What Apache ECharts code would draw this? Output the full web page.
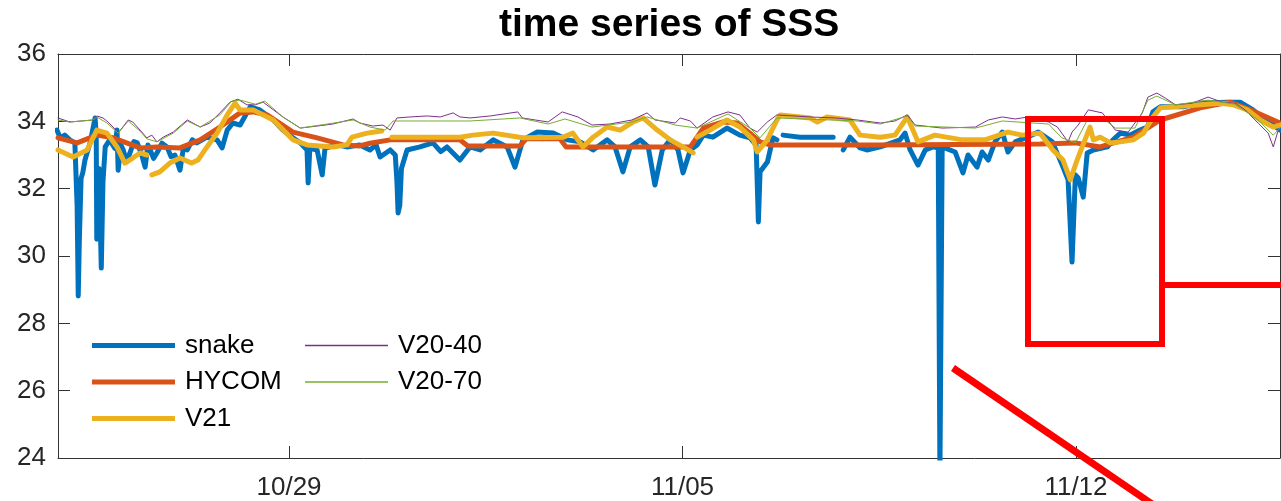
<!DOCTYPE html>
<html>
<head>
<meta charset="utf-8">
<script src="https://cdn.jsdelivr.net/npm/echarts@6/dist/echarts.min.js"></script>
<style>
html,body{margin:0;padding:0;background:#fff;}
#c{width:1281px;height:501px;}
</style>
</head>
<body>
<div id="c"></div>
<script>
// x values: days relative to 10/29 00:00
const xTickDays = [0, 7, 14];
const xTickLabels = ['10/29', '11/05', '11/12'];
const xMin = -4.11, xMax = 17.63;
const yMin = 24, yMax = 36, yStep = 2;

const seriesNames = ['snake', 'HYCOM', 'V21', 'V20-40', 'V20-70'];

const snake = [
  [-4.13,33.74],[-4.07,33.51],[-3.99,33.59],[-3.90,33.45],[-3.81,33.36],[-3.77,31.5],[-3.75,28.81],[-3.73,30.5],[-3.70,32.3],
  [-3.67,32.47],[-3.63,32.85],[-3.54,33.36],[-3.45,34.10],[-3.43,33.6],[-3.42,30.5],[-3.38,32.6],[-3.34,29.64],[-3.31,32.2],
  [-3.27,33.24],[-3.19,33.45],[-3.10,33.2],[-3.06,33.74],[-3.04,32.55],[-2.99,33.3],[-2.95,33.15],[-2.89,32.8],[-2.83,33.06],[-2.76,33.4],[-2.70,33.36],
  [-2.62,33.0],[-2.56,32.64],[-2.51,33.3],[-2.47,33.15],[-2.41,32.9],
  [-2.35,33.06],[-2.26,33.35],[-2.17,33.24],[-2.10,32.95],[-2.03,33.00],[-1.94,32.55],[-1.88,33.2],[-1.81,33.15],[-1.72,33.45],[-1.64,33.36],[-1.46,33.53],[-1.28,33.45],[-1.19,33.21],
  [-1.10,33.74],[-1.00,33.95],[-0.87,33.89],[-0.69,34.43],[-0.52,34.34],[-0.28,34.04],[-0.11,33.74],[0.07,33.51],[0.20,33.36],
  [0.32,33.15],[0.34,32.17],[0.37,33.2],[0.50,33.15],[0.59,32.41],[0.64,33.2],[0.85,33.3],[1.03,33.24],[1.26,33.30],[1.44,33.15],[1.55,33.3],[1.62,32.94],
  [1.80,33.15],[1.89,33.0],[1.92,32.2],[1.94,31.28],[1.97,31.5],[2.00,32.6],[2.10,33.15],[2.33,33.24],[2.56,33.36],[2.70,33.1],[2.81,33.24],
  [3.04,32.85],[3.22,33.24],[3.40,33.15],[3.63,33.45],[3.88,33.24],[4.02,32.64],[4.16,33.45],[4.41,33.68],[4.70,33.65],[4.95,33.45],
  [5.18,33.39],[5.41,33.15],[5.66,33.45],[5.80,33.24],[5.94,32.50],[6.07,33.24],[6.25,33.45],[6.39,33.24],[6.51,32.11],[6.64,33.15],
  [6.78,33.45],[6.92,33.15],[7.01,32.47],[7.14,33.15],[7.26,33.30],[7.37,33.59],[7.54,33.53],[7.79,33.80],[8.02,33.59],[8.20,33.51],
  [8.31,33.30],[8.35,31.01],[8.38,32.5],[8.51,32.79],[8.61,33.51],[8.68,33.45],[8.73,null],
  [8.79,33.59],[9.09,33.53],[9.68,33.53],[9.77,null],
  [9.86,33.15],[9.98,33.53],[10.16,33.21],[10.28,33.15],[10.52,33.24],[10.87,33.45],[10.96,33.65],[11.05,33.15],[11.19,32.70],
  [11.32,33.15],[11.46,33.24],[11.55,33.21],[11.58,23.5],[11.62,33.24],[11.85,33.09],[11.99,32.47],[12.08,33.0],[12.24,32.64],
  [12.33,33.09],[12.44,32.85],[12.56,33.39],[12.69,33.68],[12.79,33.09],[12.92,33.39],[13.13,33.53],[13.33,33.68],[13.58,33.39],
  [13.77,32.64],[13.86,32.26],[13.93,29.82],[13.99,32.41],[14.04,32.32],[14.13,31.75],[14.20,33.06],[14.31,33.15],[14.56,33.24],
  [14.66,33.45],[14.79,33.65],[14.96,33.59],[15.14,33.74],[15.27,33.83],[15.37,34.28],[15.50,34.43],[15.91,34.43],[16.21,34.54],
  [16.69,34.57],[16.92,34.57],[17.15,34.34],[17.33,34.10],[17.51,33.89],[17.63,33.74]
];

const hycom = [
  [-4.11,33.51],[-3.77,33.36],[-3.42,33.59],[-3.13,33.51],[-2.65,33.21],[-2.35,33.24],[-1.94,33.21],[-1.58,33.45],[-1.23,33.83],
  [-0.87,34.25],[-0.64,34.28],[-0.39,34.19],[0.07,33.68],[0.50,33.51],[0.96,33.30],[1.26,33.27],[1.44,33.35],[1.80,33.45],
  [3.04,33.45],[3.18,33.27],[4.11,33.27],[4.22,33.48],[4.82,33.48],[4.93,33.24],[7.14,33.24],[7.37,33.80],[7.72,33.98],[7.97,33.95],
  [8.20,33.65],[8.38,33.39],[8.56,33.30],[10.43,33.30],[13.36,33.33],[13.99,33.36],[14.43,33.24],[15.02,33.53],[15.50,34.04],
  [16.21,34.40],[16.74,34.57],[17.10,34.34],[17.63,33.95]
];

const v21 = [
  [-4.11,33.15],[-3.84,32.94],[-3.59,33.15],[-3.42,33.74],[-3.24,33.65],[-3.06,33.24],[-2.92,32.76],[-2.78,32.91],[-2.65,33.06],
  [-2.53,33.00],[-2.48,null],
  [-2.44,32.41],[-2.30,32.50],[-2.12,32.76],[-1.94,32.91],[-1.73,32.76],[-1.62,32.85],[-1.46,33.24],[-1.28,33.65],[-1.10,34.19],
  [-0.96,34.54],[-0.87,34.34],[-0.64,34.34],[-0.28,34.04],[0.07,33.45],[0.32,33.30],[0.78,33.24],[1.03,33.30],[1.12,33.53],
  [1.39,33.65],[1.65,33.71],[1.74,null],
  [1.83,33.53],[3.04,33.53],[3.27,33.59],[3.63,33.65],[4.16,33.51],[4.88,33.53],[5.05,33.65],[5.23,33.24],[5.41,33.53],[5.66,33.83],
  [5.89,33.74],[6.12,33.98],[6.30,34.10],[6.55,33.74],[6.78,33.45],[7.01,33.24],[7.19,33.06],[7.22,null],
  [7.26,33.53],[7.49,33.74],[7.79,34.04],[8.02,33.83],[8.26,33.45],[8.33,33.09],[8.51,33.45],[8.68,34.04],[8.74,34.19],[9.27,34.10],
  [9.40,33.98],[9.57,34.13],[9.98,34.04],[10.16,33.59],[10.52,33.53],[10.78,33.59],[11.00,34.13],[11.19,33.39],[11.49,33.59],
  [11.98,33.45],[12.38,33.45],[12.79,33.68],[13.04,33.59],[13.36,33.65],[13.59,33.15],[13.77,32.85],[13.90,32.26],[14.02,32.85],
  [14.16,33.45],[14.25,33.83],[14.31,33.45],[14.43,33.53],[14.61,33.36],[14.79,33.39],[15.02,33.45],[15.20,33.65],[15.37,34.13],
  [15.50,34.40],[15.73,34.43],[16.21,34.49],[16.57,34.54],[16.80,34.49],[17.05,34.34],[17.28,34.04],[17.51,33.83],[17.63,33.89]
];

const v2040 = [
  [-4.11,34.10],[-3.90,33.98],[-3.49,34.04],[-3.42,34.16],[-3.31,34.10],[-3.24,34.01],[-3.13,33.83],[-3.04,33.65],[-2.86,34.04],
  [-2.78,33.98],[-2.65,33.74],[-2.53,33.51],[-2.44,33.59],[-2.35,33.39],[-2.24,33.53],[-2.06,33.68],[-1.81,34.04],[-1.71,33.95],
  [-1.58,33.83],[-1.41,33.95],[-1.23,34.25],[-1.05,34.57],[-0.91,34.66],[-0.75,34.49],[-0.60,34.49],[-0.46,34.57],[-0.11,34.13],
  [0.20,33.80],[0.50,33.86],[0.78,33.92],[1.14,34.07],[1.26,33.95],[1.49,33.86],[1.67,33.89],[1.80,33.74],[1.92,34.10],[2.15,34.13],
  [2.46,34.16],[2.69,34.13],[2.92,34.25],[3.04,34.13],[3.22,34.10],[3.58,34.16],[4.07,34.28],[4.15,34.10],[4.61,33.98],[4.86,34.28],
  [5.14,34.13],[5.39,33.89],[5.71,33.92],[6.10,34.04],[6.37,34.25],[6.51,34.04],[6.87,33.95],[6.96,34.10],[7.14,34.01],[7.26,33.80],
  [7.54,34.13],[7.81,34.28],[8.02,34.19],[8.20,33.80],[8.33,33.68],[8.51,33.98],[8.68,34.19],[9.27,34.13],[9.72,34.10],[10.11,34.04],
  [10.52,33.95],[10.78,34.01],[11.00,34.19],[11.14,33.89],[11.62,33.80],[12.21,33.83],[12.44,34.04],[12.69,34.13],[12.92,34.07],
  [13.15,34.13],[13.51,33.98],[13.67,33.83],[13.86,33.39],[13.93,33.68],[14.04,33.89],[14.22,34.34],[14.47,34.25],[14.70,33.74],
  [14.93,33.68],[15.18,34.25],[15.28,34.72],[15.44,34.84],[15.59,34.69],[15.77,34.49],[16.07,34.54],[16.35,34.72],[16.60,34.57],
  [16.83,34.54],[17.01,34.34],[17.24,33.95],[17.42,33.65],[17.51,33.24],[17.60,33.74]
];

const v2070 = [
  [-4.11,34.04],[-3.90,33.98],[-3.49,34.04],[-3.42,34.13],[-3.24,33.95],[-3.04,33.65],[-2.86,34.01],[-2.65,33.71],[-2.53,33.48],
  [-2.35,33.39],[-2.06,33.65],[-1.81,34.01],[-1.58,33.83],[-1.23,34.19],[-1.02,34.60],[-0.87,34.63],[-0.60,34.51],[-0.43,34.60],
  [-0.11,34.13],[0.20,33.80],[0.68,33.92],[1.14,34.04],[1.44,33.83],[1.71,33.74],[1.85,34.01],[2.46,34.01],[3.22,34.01],[4.11,34.10],
  [4.61,33.92],[4.91,34.07],[5.39,33.83],[6.10,33.98],[6.37,34.13],[6.87,33.89],[7.26,33.80],[7.81,34.22],[8.20,33.80],[8.38,33.51],
  [8.68,34.10],[10.11,34.01],[10.52,33.92],[11.00,34.16],[11.14,33.86],[12.21,33.80],[12.69,34.01],[13.51,33.92],[13.75,33.51],
  [13.99,33.36],[14.22,34.10],[14.47,34.10],[14.70,33.80],[15.05,33.80],[15.28,34.63],[15.44,34.75],[15.77,34.49],[16.35,34.63],
  [16.83,34.51],[17.24,34.04],[17.51,33.59],[17.63,33.80]
];

const colors = ['#0072BD', '#D95319', '#EDB120', '#7E2F8E', '#77AC30'];
const widths = [5, 5, 5, 1, 1];
const datasets = [snake, hycom, v21, v2040, v2070];

const axisColor = '#333333';
const txtColor = '#262626';
const font = 'Liberation Sans, Arial, Helvetica, sans-serif';

const chart = echarts.init(document.getElementById('c'), null, {renderer: 'canvas'});

const xAxisBase = {
  type: 'value', min: xMin, max: xMax,
  axisLine: {show: true, onZero: false, lineStyle: {color: axisColor, width: 1}},
  splitLine: {show: false}
};
const yAxisBase = {
  type: 'value', min: yMin, max: yMax, interval: yStep,
  axisLine: {show: true, onZero: false, lineStyle: {color: axisColor, width: 1}},
  splitLine: {show: false}
};

function legendData(names, from) {
  return names.map(function (n, k) {
    return {name: n, icon: 'rect', itemStyle: {color: colors[from + k], borderWidth: 0}};
  });
}

const legendText = {fontFamily: font, fontSize: 26, color: '#000', lineHeight: 27, padding: [0, 0, 0, 5]};

const option = {
  backgroundColor: '#ffffff',
  animation: false,
  title: {
    text: 'time series of SSS',
    left: 499, top: 6, padding: 0,
    textStyle: {fontFamily: font, fontWeight: 'bold', fontSize: 39, color: '#000'}
  },
  grid: {left: 58, right: 1, top: 54, bottom: 43, containLabel: false},
  legend: [
    {
      data: legendData(seriesNames.slice(0, 3), 0), orient: 'vertical', left: 92, top: 332, padding: 0,
      itemWidth: 83, itemHeight: 5, itemGap: 9.5, selectedMode: false,
      textStyle: legendText
    },
    {
      data: legendData(seriesNames.slice(3), 3), orient: 'vertical', left: 305, top: 332, padding: 0,
      itemWidth: 83, itemHeight: 1.5, itemGap: 9.5, selectedMode: false,
      textStyle: legendText
    }
  ],
  xAxis: [
    Object.assign({}, xAxisBase, {
      position: 'bottom',
      axisTick: {show: true, inside: true, length: 12, customValues: xTickDays, lineStyle: {color: axisColor}},
      axisLabel: {
        show: true, margin: 17, customValues: xTickDays,
        fontFamily: font, fontSize: 26, color: txtColor,
        formatter: function (v) { const i = xTickDays.indexOf(v); return i >= 0 ? xTickLabels[i] : ''; }
      }
    }),
    Object.assign({}, xAxisBase, {
      position: 'top',
      axisTick: {show: true, inside: true, length: 12, customValues: xTickDays, lineStyle: {color: axisColor}},
      axisLabel: {show: false}
    })
  ],
  yAxis: [
    Object.assign({}, yAxisBase, {
      position: 'left',
      axisTick: {show: true, inside: true, length: 12, lineStyle: {color: axisColor}},
      axisLabel: {show: true, margin: 12, fontFamily: font, fontSize: 26, color: txtColor}
    }),
    Object.assign({}, yAxisBase, {
      position: 'right',
      axisTick: {show: true, inside: true, length: 12, lineStyle: {color: axisColor}},
      axisLabel: {show: false}
    })
  ],
  series: seriesNames.map(function (name, i) {
    return {
      name: name, type: 'line', data: datasets[i],
      xAxisIndex: 0, yAxisIndex: 0,
      symbol: 'none', showSymbol: false, clip: true,
      connectNulls: false,
      color: colors[i],
      lineStyle: {color: colors[i], width: widths[i], join: 'round', cap: 'round'},
      itemStyle: {color: colors[i]},
      emphasis: {disabled: true},
      z: 2 + i
    };
  }),
  graphic: [
    {type: 'rect', z: 100, shape: {x: 1028, y: 119, width: 134, height: 225},
     style: {fill: 'none', stroke: '#FF0000', lineWidth: 6}},
    {type: 'line', z: 100, shape: {x1: 1162, y1: 285, x2: 1285, y2: 285},
     style: {stroke: '#FF0000', lineWidth: 6}},
    {type: 'line', z: 100, shape: {x1: 953, y1: 368, x2: 1155, y2: 506},
     style: {stroke: '#FF0000', lineWidth: 7}}
  ]
};

chart.setOption(option);
</script>
</body>
</html>
